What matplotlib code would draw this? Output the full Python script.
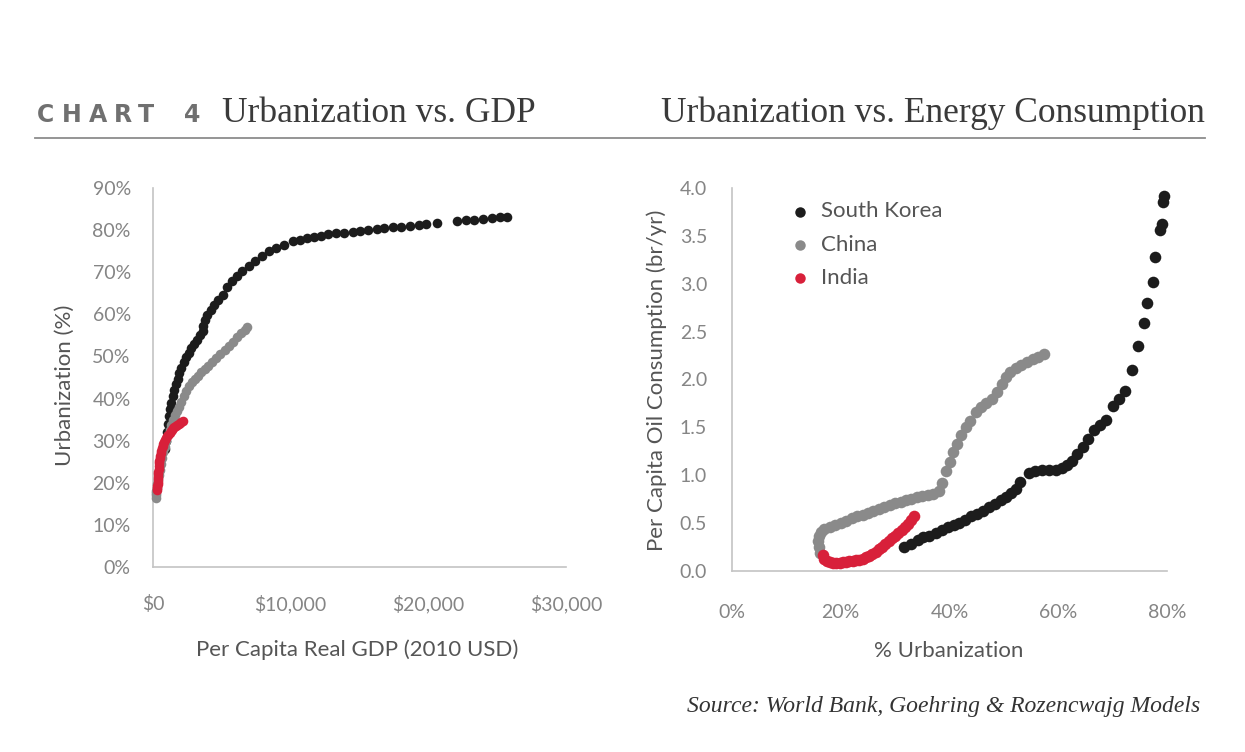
import matplotlib.pyplot as plt
from matplotlib.ticker import FuncFormatter, MultipleLocator

# ---- left panel: per capita real GDP (2010 USD) vs urbanization (%) ----
kr_gdp = [900, 960, 1020, 1080, 1150, 1230, 1320, 1420, 1530, 1650,
          1780, 1920, 2070, 2230, 2400, 2580, 2780, 3000, 3230, 3450,
          3600, 3650, 3750, 3950, 4200, 4450, 4750, 5050, 5400, 5750,
          6100, 6500, 6950, 7400, 7900, 8400, 8900, 9500, 10200, 10700,
          11200, 11700, 12200, 12700, 13300, 13900, 14500, 15000, 15600, 16300,
          16800, 17400, 18000, 18700, 19300, 19800, 20600, 22100, 22700, 23300,
          24000, 24600, 25200, 25700]
kr_urban = [28.0, 30.0, 32.0, 34.0, 35.8, 37.5, 39.0, 40.5, 42.0, 43.4,
            44.7, 46.0, 47.3, 48.6, 49.8, 50.9, 51.9, 53.0, 54.0, 55.0,
            56.0, 57.3, 58.6, 59.8, 61.0, 62.2, 63.4, 64.6, 66.5, 67.8,
            69.0, 70.2, 71.4, 72.6, 73.8, 75.0, 75.8, 76.5, 77.3, 77.7,
            78.1, 78.4, 78.7, 79.0, 79.2, 79.4, 79.6, 79.8, 80.0, 80.3,
            80.5, 80.7, 80.8, 81.0, 81.3, 81.5, 81.8, 82.2, 82.3, 82.4,
            82.6, 82.8, 83.0, 83.1]

cn_gdp = [190, 210, 230, 250, 280, 320, 370, 430, 500, 580,
          660, 750, 850, 960, 1080, 1200, 1330, 1460, 1600, 1750,
          1900, 2060, 2230, 2410, 2600, 2800, 3020, 3250, 3500, 3760,
          4030, 4310, 4600, 4900, 5200, 5500, 5800, 6100, 6400, 6650, 6850]
cn_urban = [16.5, 17.0, 17.5, 18.0, 18.7, 19.6, 20.6, 21.8, 23.0, 24.5,
            25.8, 27.2, 28.6, 30.0, 31.3, 32.5, 33.7, 34.8, 36.0, 37.0,
            38.0, 39.2, 40.6, 41.9, 43.0, 43.9, 44.6, 45.4, 46.2, 47.0,
            47.8, 48.7, 49.6, 50.6, 51.5, 52.5, 53.5, 54.5, 55.5, 56.3, 57.0]

in_gdp = [300, 310, 320, 330, 340, 350, 360, 370, 380, 400,
          420, 440, 460, 490, 520, 560, 600, 650, 700, 760,
          820, 890, 960, 1040, 1120, 1200, 1290, 1380, 1470, 1560,
          1660, 1760, 1860, 1960, 2060, 2160]
in_urban = [18.3, 18.8, 19.3, 19.8, 20.3, 20.8, 21.4, 22.0, 22.6, 23.3,
            24.0, 24.6, 25.2, 25.8, 26.4, 27.0, 27.6, 28.2, 28.7, 29.2,
            29.7, 30.2, 30.6, 31.0, 31.4, 31.8, 32.2, 32.6, 32.9, 33.2,
            33.5, 33.8, 34.0, 34.2, 34.4, 34.6]

# ---- right panel: urbanization (%) vs per capita oil consumption ----
kr_urb2 = [31.7, 33.0, 34.2, 35.2, 36.3, 37.5, 38.6, 39.8, 40.8, 41.8,
           42.9, 44.0, 45.1, 46.2, 47.3, 48.4, 49.4, 50.4, 51.3, 52.2,
           53.0, 54.6, 55.8, 57.0, 58.3, 59.5, 60.6, 61.6, 62.5, 63.5,
           64.5, 65.5, 66.5, 67.6, 68.7, 70.1, 71.2, 72.2, 73.6, 74.7,
           75.8, 76.4, 77.5, 77.8, 78.8, 79.0, 79.3, 79.5]
kr_oil = [0.25, 0.28, 0.32, 0.35, 0.37, 0.40, 0.43, 0.46, 0.48, 0.50,
          0.53, 0.57, 0.60, 0.63, 0.67, 0.70, 0.74, 0.77, 0.81, 0.86,
          0.93, 1.02, 1.04, 1.05, 1.05, 1.06, 1.08, 1.11, 1.15, 1.22,
          1.30, 1.38, 1.47, 1.52, 1.58, 1.72, 1.80, 1.88, 2.10, 2.35,
          2.59, 2.80, 3.02, 3.28, 3.56, 3.62, 3.85, 3.92]

cn_urb2 = [16.2, 16.0, 15.9, 16.0, 16.3, 17.0, 18.0, 19.0, 20.0, 21.0,
           22.0, 23.0, 24.0, 25.0, 26.0, 27.0, 28.0, 29.0, 30.0, 31.0,
           32.0, 33.0, 34.0, 35.0, 36.0, 37.0, 38.0, 38.6, 39.4, 40.0,
           40.6, 41.4, 42.2, 43.0, 43.8, 44.8, 45.8, 46.8, 47.8, 48.8,
           49.6, 50.3, 51.2, 52.2, 53.2, 54.2, 55.3, 56.3, 57.3]
cn_oil = [0.19, 0.25, 0.31, 0.37, 0.41, 0.44, 0.46, 0.48, 0.50, 0.52,
          0.55, 0.57, 0.59, 0.61, 0.63, 0.65, 0.67, 0.69, 0.71, 0.72,
          0.74, 0.75, 0.77, 0.78, 0.79, 0.80, 0.84, 0.92, 1.04, 1.14,
          1.24, 1.33, 1.42, 1.50, 1.57, 1.66, 1.71, 1.75, 1.80, 1.87,
          1.95, 2.03, 2.08, 2.12, 2.15, 2.18, 2.21, 2.24, 2.27]

in_urb2 = [16.8, 17.0, 17.4, 18.0, 18.6, 19.2, 19.8, 20.4, 21.0, 21.6,
           22.2, 22.8, 23.4, 24.0, 24.6, 25.2, 25.8, 26.4, 27.0, 27.6,
           28.2, 28.8, 29.4, 30.0, 30.6, 31.2, 31.8, 32.4, 33.0, 33.5]
in_oil = [0.17, 0.13, 0.10, 0.09, 0.08, 0.08, 0.08, 0.09, 0.09, 0.10,
          0.10, 0.11, 0.12, 0.13, 0.15, 0.16, 0.18, 0.20, 0.23, 0.25,
          0.28, 0.31, 0.34, 0.37, 0.40, 0.43, 0.46, 0.49, 0.53, 0.57]

countries = ['South Korea', 'China', 'India']
colors = ['#1c1c1c', '#8a8a8a', '#d8203a']

TICK_C = '#858585'
LABEL_C = '#555555'
SPINE_C = '#c4c4c4'
SANS = 'Lato'
SERIF = 'Liberation Serif'

W, H = 1245, 752
fig = plt.figure(figsize=(W / 100, H / 100), dpi=100)
fig.patch.set_facecolor('white')


def px_rect(x0, y0, x1, y1):
    return [x0 / W, 1 - y1 / H, (x1 - x0) / W, (y1 - y0) / H]


def style(ax):
    for s in ['top', 'right']:
        ax.spines[s].set_visible(False)
    for s in ['left', 'bottom']:
        ax.spines[s].set_color(SPINE_C)
        ax.spines[s].set_linewidth(1.2)
    ax.tick_params(length=0, colors=TICK_C, labelsize=14)
    for lab in ax.get_xticklabels() + ax.get_yticklabels():
        lab.set_fontfamily(SANS)


# left chart
ax1 = fig.add_axes(px_rect(153, 188, 566, 567))
ax1.scatter(kr_gdp, kr_urban, s=48, color=colors[0], clip_on=False, zorder=3, lw=0)
ax1.scatter(cn_gdp, cn_urban, s=48, color=colors[1], clip_on=False, zorder=4, lw=0)
ax1.scatter(in_gdp, in_urban, s=48, color=colors[2], clip_on=False, zorder=5, lw=0)
ax1.set_xlim(0, 30000)
ax1.set_ylim(0, 90)
ax1.xaxis.set_major_locator(MultipleLocator(10000))
ax1.yaxis.set_major_locator(MultipleLocator(10))
ax1.xaxis.set_major_formatter(FuncFormatter(lambda v, p: f'${v:,.0f}'))
ax1.yaxis.set_major_formatter(FuncFormatter(lambda v, p: f'{v:.0f}%'))
ax1.tick_params(axis='x', pad=20)
ax1.tick_params(axis='y', pad=16)
style(ax1)
ax1.set_xlabel('Per Capita Real GDP (2010 USD)', fontsize=16, color=LABEL_C, family=SANS)
ax1.set_ylabel('Urbanization (%)', fontsize=16, color=LABEL_C, family=SANS)
ax1.xaxis.set_label_coords(0.494, -0.19)
ax1.yaxis.set_label_coords(-0.19, 0.48)

# right chart
ax2 = fig.add_axes(px_rect(732, 188, 1167, 571))
ax2.scatter(kr_urb2, kr_oil, s=70, color=colors[0], clip_on=False, zorder=3, lw=0,
            label=countries[0])
ax2.scatter(cn_urb2, cn_oil, s=70, color=colors[1], clip_on=False, zorder=4, lw=0,
            label=countries[1])
ax2.scatter(in_urb2, in_oil, s=70, color=colors[2], clip_on=False, zorder=5, lw=0,
            label=countries[2])
ax2.set_xlim(0, 80)
ax2.set_ylim(0, 4.0)
ax2.xaxis.set_major_locator(MultipleLocator(20))
ax2.yaxis.set_major_locator(MultipleLocator(0.5))
ax2.xaxis.set_major_formatter(FuncFormatter(lambda v, p: f'{v:.0f}%'))
ax2.yaxis.set_major_formatter(FuncFormatter(lambda v, p: f'{v:.1f}'))
ax2.tick_params(axis='x', pad=24)
ax2.tick_params(axis='y', pad=18)
style(ax2)
ax2.set_xlabel('% Urbanization', fontsize=16, color=LABEL_C, family=SANS)
ax2.set_ylabel('Per Capita Oil Consumption (br/yr)', fontsize=16, color=LABEL_C, family=SANS)
ax2.xaxis.set_label_coords(0.497, -0.183)
ax2.yaxis.set_label_coords(-0.15, 0.499)
leg = ax2.legend(loc='upper left', bbox_to_anchor=(0.1, 1.0), frameon=False,
                 handlelength=1.0, handletextpad=0.45, labelspacing=0.6,
                 borderaxespad=0.2, markerscale=0.9,
                 prop={'family': SANS, 'size': 16})
for t in leg.get_texts():
    t.set_color(LABEL_C)

# header
for ch, xc in zip('CHART4', [46, 72, 98, 123, 146, 192]):
    fig.text(xc / W, 1 - 122 / H, ch, ha='center', va='baseline', fontsize=17,
             fontweight='bold', color='#707070', family='DejaVu Sans')
fig.text(222 / W, 1 - 122 / H, 'Urbanization vs. GDP', ha='left', va='baseline',
         fontsize=25.5, color='#3a3a3a', family=SERIF)
fig.text(1205 / W, 1 - 122 / H, 'Urbanization vs. Energy Consumption', ha='right',
         va='baseline', fontsize=25.5, color='#3a3a3a', family=SERIF)
fig.add_artist(plt.Line2D([35 / W, 1205 / W], [1 - 138 / H, 1 - 138 / H],
                          color='#8c8c8c', lw=1.3))

fig.text(1200 / W, 1 - 712 / H, 'Source: World Bank, Goehring & Rozencwajg Models',
         ha='right', va='baseline', fontsize=17, style='italic', color='#333333',
         family=SERIF)

fig.savefig('out.png', dpi=100, facecolor='white')
